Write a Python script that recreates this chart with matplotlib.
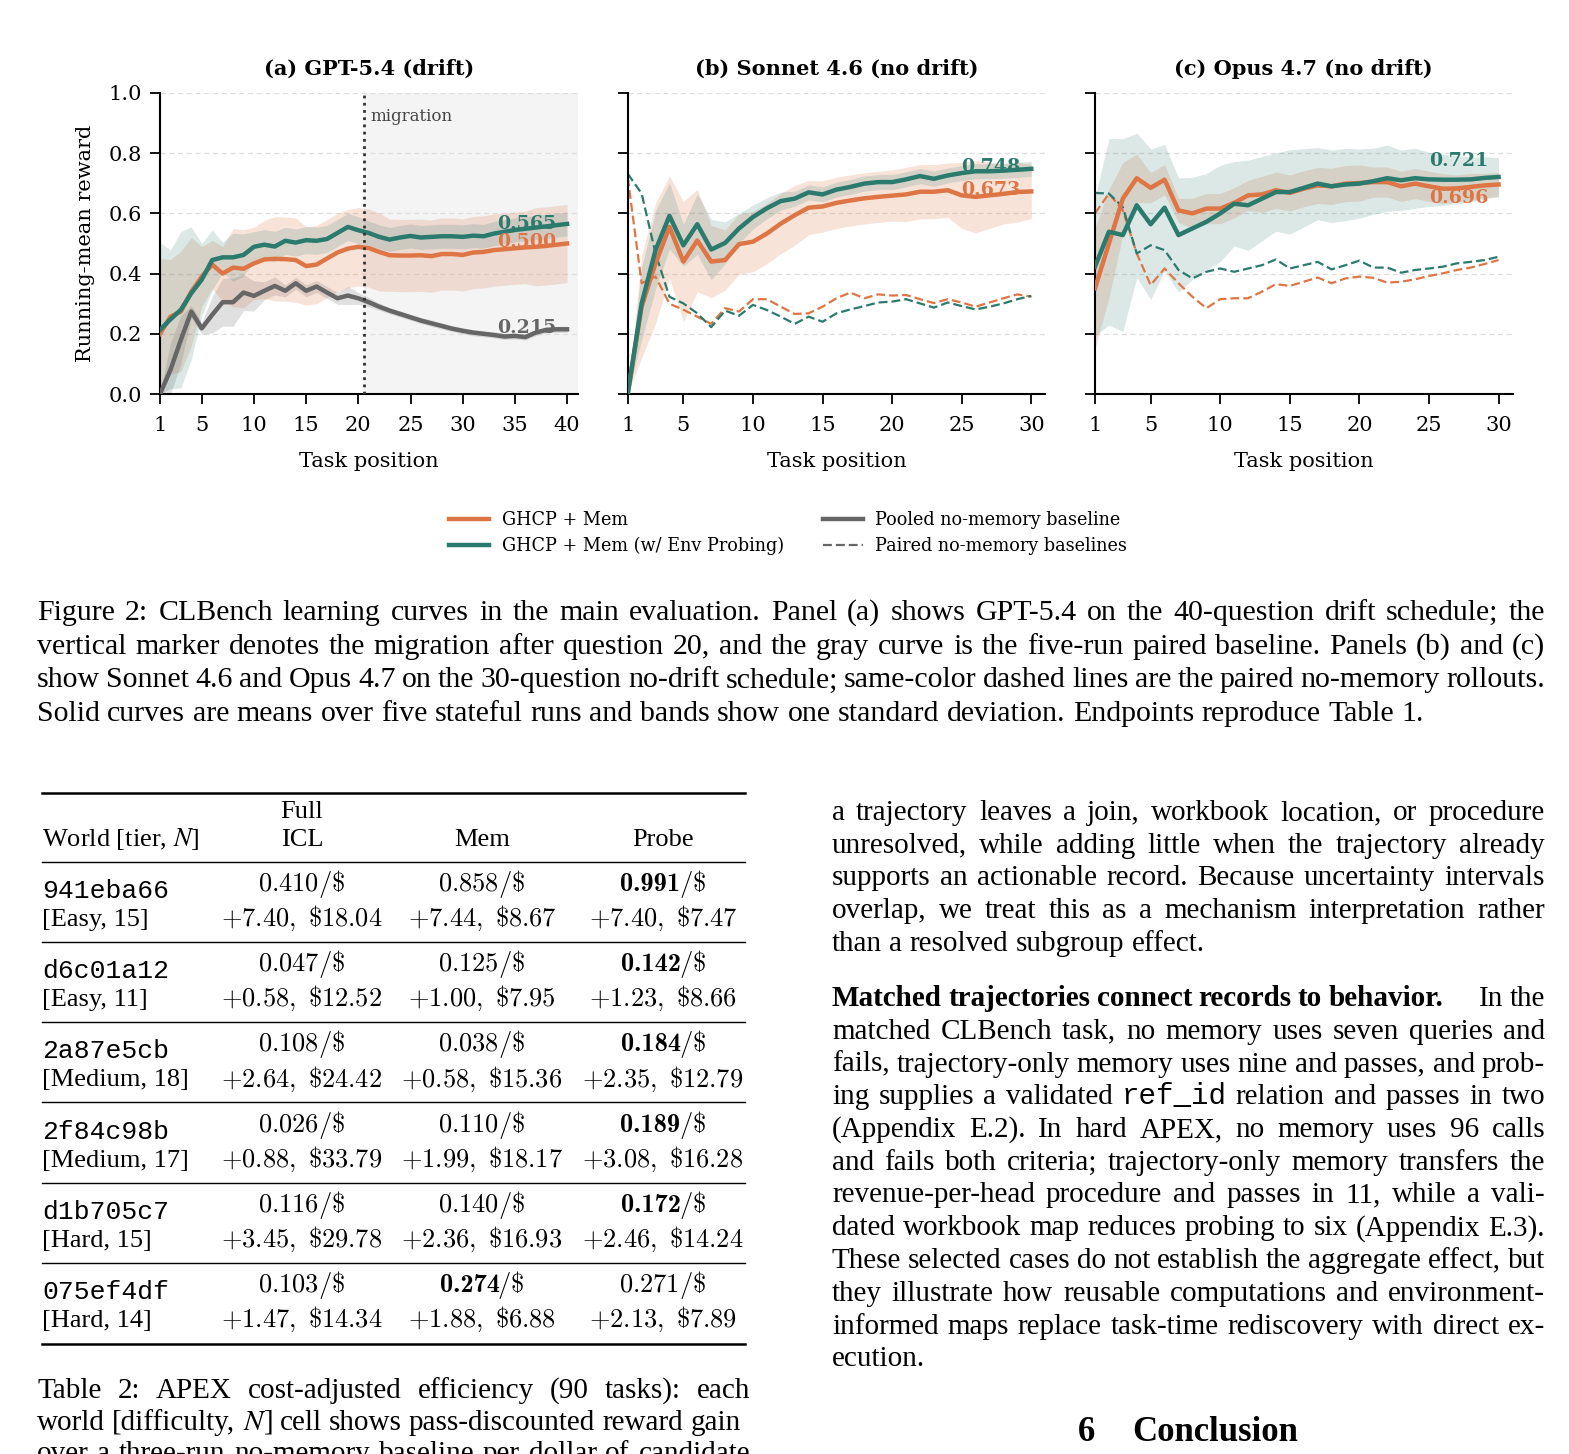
import os
import matplotlib
matplotlib.use("Agg")
import numpy as np
import matplotlib.pyplot as plt
from matplotlib.lines import Line2D
from matplotlib.transforms import IdentityTransform
from matplotlib.font_manager import FontProperties

W, H = 1569, 1454
ORANGE = "#DE7545"
TEAL = "#2B7A6E"
GRAY = "#666666"

# ---- panel (a): GPT-5.4, drift schedule ----
a_x = np.arange(1, 41)
a_mem = [0.200, 0.257, 0.274, 0.340, 0.390, 0.430, 0.400, 0.420, 0.416, 0.434,
         0.447, 0.449, 0.448, 0.445, 0.425, 0.430, 0.450, 0.470, 0.483, 0.489,
         0.485, 0.472, 0.461, 0.460, 0.460, 0.461, 0.458, 0.465, 0.465, 0.462,
         0.470, 0.472, 0.478, 0.481, 0.484, 0.487, 0.489, 0.492, 0.496, 0.500]
a_mem_sd = [0.25, 0.19, 0.20, 0.18, 0.10, 0.08, 0.09, 0.13, 0.13, 0.12,
            0.13, 0.14, 0.14, 0.14, 0.13, 0.13, 0.13, 0.13, 0.13, 0.13,
            0.13, 0.13, 0.12, 0.12, 0.12, 0.12, 0.12, 0.12, 0.12, 0.12,
            0.12, 0.12, 0.12, 0.12, 0.12, 0.12, 0.13, 0.13, 0.13, 0.13]
a_probe = [0.213, 0.248, 0.280, 0.335, 0.380, 0.445, 0.454, 0.454, 0.462, 0.489,
           0.496, 0.490, 0.509, 0.503, 0.511, 0.509, 0.515, 0.535, 0.555, 0.544,
           0.535, 0.522, 0.513, 0.520, 0.525, 0.520, 0.522, 0.524, 0.524, 0.522,
           0.526, 0.524, 0.533, 0.539, 0.545, 0.549, 0.553, 0.557, 0.561, 0.565]
a_probe_sd = [0.29, 0.23, 0.26, 0.22, 0.12, 0.10, 0.05, 0.08, 0.07, 0.05,
              0.05, 0.05, 0.045, 0.045, 0.045, 0.045, 0.045, 0.045, 0.045, 0.045,
              0.04, 0.04, 0.04, 0.04, 0.04, 0.04, 0.04, 0.04, 0.04, 0.04,
              0.04, 0.04, 0.04, 0.04, 0.04, 0.04, 0.04, 0.04, 0.04, 0.04]
a_base = [0.000, 0.080, 0.180, 0.274, 0.218, 0.263, 0.305, 0.305, 0.337, 0.326,
          0.343, 0.359, 0.343, 0.368, 0.343, 0.357, 0.337, 0.318, 0.327, 0.318,
          0.305, 0.290, 0.277, 0.266, 0.255, 0.244, 0.235, 0.226, 0.217, 0.210,
          0.204, 0.200, 0.196, 0.191, 0.193, 0.189, 0.204, 0.213, 0.215, 0.215]
a_base_sd = [0.0, 0.09, 0.08, 0.02, 0.02, 0.06, 0.08, 0.08, 0.06, 0.05,
             0.03, 0.03, 0.02, 0.02, 0.02, 0.02, 0.02, 0.02, 0.03, 0.02,
             0.015, 0.012, 0.01, 0.01, 0.01, 0.01, 0.01, 0.01, 0.01, 0.01,
             0.01, 0.01, 0.01, 0.01, 0.01, 0.01, 0.01, 0.01, 0.01, 0.01]

# ---- panel (b): Sonnet 4.6 ----
b_x = np.arange(1, 31)
b_mem = [0.000, 0.290, 0.434, 0.555, 0.440, 0.510, 0.440, 0.445, 0.498, 0.506,
         0.533, 0.566, 0.594, 0.619, 0.623, 0.635, 0.643, 0.650, 0.655, 0.659,
         0.663, 0.672, 0.672, 0.677, 0.660, 0.655, 0.660, 0.665, 0.671, 0.673]
b_mem_sd = [0.0, 0.17, 0.20, 0.17, 0.20, 0.17, 0.12, 0.10, 0.10, 0.10,
            0.10, 0.10, 0.10, 0.09, 0.085, 0.085, 0.085, 0.085, 0.085, 0.085,
            0.09, 0.09, 0.09, 0.09, 0.11, 0.12, 0.11, 0.10, 0.10, 0.09]
b_probe = [0.000, 0.300, 0.478, 0.592, 0.494, 0.564, 0.480, 0.502, 0.550, 0.588,
           0.617, 0.641, 0.649, 0.670, 0.663, 0.679, 0.688, 0.699, 0.704, 0.704,
           0.713, 0.724, 0.715, 0.726, 0.734, 0.740, 0.740, 0.742, 0.745, 0.748]
b_probe_sd = [0.0, 0.12, 0.13, 0.11, 0.07, 0.10, 0.10, 0.07, 0.05, 0.04,
              0.035, 0.03, 0.025, 0.025, 0.025, 0.025, 0.025, 0.025, 0.025, 0.025,
              0.025, 0.025, 0.025, 0.025, 0.025, 0.025, 0.025, 0.025, 0.025, 0.025]
b_mem_nomem = [0.720, 0.368, 0.390, 0.300, 0.280, 0.257, 0.233, 0.285, 0.274, 0.315,
               0.315, 0.290, 0.266, 0.268, 0.290, 0.318, 0.337, 0.318, 0.331, 0.327,
               0.329, 0.315, 0.302, 0.315, 0.304, 0.290, 0.304, 0.318, 0.331, 0.323]
b_probe_nomem = [0.732, 0.666, 0.467, 0.323, 0.301, 0.268, 0.222, 0.277, 0.260, 0.296,
                 0.279, 0.257, 0.233, 0.257, 0.240, 0.268, 0.281, 0.292, 0.304, 0.307,
                 0.315, 0.301, 0.287, 0.304, 0.292, 0.281, 0.290, 0.301, 0.315, 0.326]

# ---- panel (c): Opus 4.7 ----
c_x = np.arange(1, 31)
c_mem = [0.351, 0.500, 0.649, 0.717, 0.685, 0.712, 0.610, 0.600, 0.616, 0.616,
         0.635, 0.660, 0.663, 0.677, 0.668, 0.682, 0.693, 0.690, 0.699, 0.701,
         0.704, 0.704, 0.690, 0.699, 0.690, 0.682, 0.683, 0.688, 0.693, 0.696]
c_mem_sd = [0.20, 0.18, 0.12, 0.08, 0.05, 0.05, 0.04, 0.05, 0.05, 0.05,
            0.05, 0.05, 0.06, 0.06, 0.06, 0.06, 0.06, 0.06, 0.06, 0.06,
            0.05, 0.05, 0.05, 0.05, 0.05, 0.05, 0.045, 0.045, 0.04, 0.04]
c_probe = [0.423, 0.539, 0.528, 0.627, 0.564, 0.619, 0.528, 0.550, 0.572, 0.600,
           0.632, 0.627, 0.649, 0.671, 0.671, 0.685, 0.699, 0.690, 0.696, 0.699,
           0.707, 0.717, 0.710, 0.717, 0.713, 0.712, 0.712, 0.713, 0.718, 0.721]
c_probe_sd = [0.23, 0.31, 0.32, 0.24, 0.25, 0.21, 0.19, 0.17, 0.16, 0.16,
              0.14, 0.15, 0.14, 0.13, 0.14, 0.13, 0.12, 0.12, 0.12, 0.115,
              0.11, 0.11, 0.10, 0.10, 0.09, 0.085, 0.08, 0.075, 0.07, 0.065]
c_mem_nomem = [0.600, 0.666, 0.610, 0.467, 0.362, 0.417, 0.368, 0.323, 0.285, 0.315,
               0.318, 0.318, 0.340, 0.365, 0.359, 0.373, 0.387, 0.368, 0.384, 0.390,
               0.386, 0.370, 0.373, 0.381, 0.392, 0.401, 0.412, 0.420, 0.432, 0.445]
c_probe_nomem = [0.668, 0.666, 0.621, 0.467, 0.494, 0.478, 0.412, 0.384, 0.406, 0.417,
                 0.406, 0.417, 0.428, 0.447, 0.417, 0.428, 0.439, 0.414, 0.428, 0.443,
                 0.420, 0.420, 0.403, 0.412, 0.417, 0.423, 0.434, 0.439, 0.445, 0.456]

titles = ["(a) GPT-5.4 (drift)", "(b) Sonnet 4.6 (no drift)", "(c) Opus 4.7 (no drift)"]
xticks_a = [1, 5, 10, 15, 20, 25, 30, 35, 40]
xticks_bc = [1, 5, 10, 15, 20, 25, 30]
migration_after = 20
# endpoint label heights (nudged apart where labels would collide)
end_label_y = [[0.505, 0.566, 0.219], [0.677, 0.754], [0.652, 0.773]]

# ---- table 2 ----
worlds = ["941eba66", "d6c01a12", "2a87e5cb", "2f84c98b", "d1b705c7", "075ef4df"]
tiers = ["[Easy, 15]", "[Easy, 11]", "[Medium, 18]", "[Medium, 17]", "[Hard, 15]", "[Hard, 14]"]
eff = [[0.410, 0.858, 0.991], [0.047, 0.125, 0.142], [0.108, 0.038, 0.184],
       [0.026, 0.110, 0.189], [0.116, 0.140, 0.172], [0.103, 0.274, 0.271]]
gain = [[7.40, 7.44, 7.40], [0.58, 1.00, 1.23], [2.64, 0.58, 2.35],
        [0.88, 1.99, 3.08], [3.45, 2.36, 2.46], [1.47, 1.88, 2.13]]
cost = [[18.04, 8.67, 7.47], [12.52, 7.95, 8.66], [24.42, 15.36, 12.79],
        [33.79, 18.17, 16.28], [29.78, 16.93, 14.24], [14.34, 6.88, 7.89]]

caption_fig = [
    [("Figure 2: CLBench learning curves in the main evaluation. Panel (a) shows GPT-5.4 on the 40-question drift schedule; the", "r")],
    [("vertical marker denotes the migration after question 20, and the gray curve is the five-run paired baseline. Panels (b) and (c)", "r")],
    [("show Sonnet 4.6 and Opus 4.7 on the 30-question no-drift schedule; same-color dashed lines are the paired no-memory rollouts.", "r")],
    [("Solid curves are means over five stateful runs and bands show one standard deviation. Endpoints reproduce Table 1.", "r")],
]
para1 = [
    [("a trajectory leaves a join, workbook location, or procedure", "r")],
    [("unresolved, while adding little when the trajectory already", "r")],
    [("supports an actionable record. Because uncertainty intervals", "r")],
    [("overlap, we treat this as a mechanism interpretation rather", "r")],
    [("than a resolved subgroup effect.", "r")],
]
para2 = [
    [("Matched trajectories connect records to behavior.", "b"), ("", "quad"), ("In the", "r")],
    [("matched CLBench task, no memory uses seven queries and", "r")],
    [("fails, trajectory-only memory uses nine and passes, and prob-", "r")],
    [("ing supplies a validated", "r"), ("ref_id", "tt"), ("relation and passes in two", "r")],
    [("(Appendix E.2). In hard APEX, no memory uses 96 calls", "r")],
    [("and fails both criteria; trajectory-only memory transfers the", "r")],
    [("revenue-per-head procedure and passes in 11, while a vali-", "r")],
    [("dated workbook map reduces probing to six (Appendix E.3).", "r")],
    [("These selected cases do not establish the aggregate effect, but", "r")],
    [("they illustrate how reusable computations and environment-", "r")],
    [("informed maps replace task-time rediscovery with direct ex-", "r")],
    [("ecution.", "r")],
]
caption_tab = [
    [("Table 2: APEX cost-adjusted efficiency (90 tasks): each", "r")],
    [("world [difficulty, $N$] cell shows pass-discounted reward gain", "r")],
    [("over a three-run no-memory baseline per dollar of candidate", "r")],
]

plt.rcParams["font.family"] = "DejaVu Serif"
fig = plt.figure(figsize=(W / 100, H / 100), dpi=100)
renderer = fig.canvas.get_renderer()


def px_axes(left, top, width, height):
    return fig.add_axes([left / W, 1 - (top + height) / H, width / W, height / H])


def band(ax, x, m, s, color, alpha):
    m = np.asarray(m)
    s = np.asarray(s)
    ax.fill_between(x, np.clip(m - s, 0, 1), np.clip(m + s, 0, 1),
                    color=color, alpha=alpha, lw=0, zorder=1)


panel_left = [160, 627.7, 1095]
axes = []
for i in range(3):
    ax = px_axes(panel_left[i], 93, 417.5, 301)
    axes.append(ax)
    ax.set_ylim(0, 1.0)
    ax.set_yticks([0, 0.2, 0.4, 0.6, 0.8, 1.0])
    ax.set_axisbelow(True)
    ax.grid(axis="y", ls=(0, (4, 3)), color="#dddddd", lw=0.9)
    for sp in ["top", "right"]:
        ax.spines[sp].set_visible(False)
    for sp in ["left", "bottom"]:
        ax.spines[sp].set_linewidth(1.5)
    ax.tick_params(axis="both", direction="out", length=7, width=1.3, labelsize=15)
    ax.tick_params(axis="x", pad=9)
    ax.tick_params(axis="y", pad=6)
    ax.set_title(titles[i], fontsize=15, fontweight="bold", pad=13)
    ax.set_xlabel("Task position", fontsize=15, labelpad=12)
    if i > 0:
        ax.tick_params(labelleft=False)

# (a)
ax = axes[0]
ax.set_xlim(1, 41)
ax.set_xticks(xticks_a)
ax.set_yticklabels(["0.0", "0.2", "0.4", "0.6", "0.8", "1.0"])
ax.set_ylabel("Running-mean reward", fontsize=15, labelpad=10)
ax.axvspan(migration_after + 0.5, 41, color="#f4f4f4", lw=0, zorder=0)
ax.axvline(migration_after + 0.5, ls=(0, (1, 1.6)), color="#333333", lw=2, zorder=4)
ax.text(migration_after + 1.2, 0.922, "migration", fontsize=12, color="#444444", va="center", ha="left")
band(ax, a_x, a_base, a_base_sd, GRAY, 0.2)
band(ax, a_x, a_mem, a_mem_sd, ORANGE, 0.2)
band(ax, a_x, a_probe, a_probe_sd, TEAL, 0.17)
ax.plot(a_x, a_base, color=GRAY, lw=3.2, zorder=3)
ax.plot(a_x, a_mem, color=ORANGE, lw=3.2, zorder=3)
ax.plot(a_x, a_probe, color=TEAL, lw=3.2, zorder=3)
for vals, ly, col in zip([a_mem, a_probe, a_base], end_label_y[0], [ORANGE, TEAL, GRAY]):
    ax.text(a_x[-1] - 1.0, ly, f"{vals[-1]:.3f}", color=col, fontsize=13.7,
            fontweight="bold", ha="right", va="center", zorder=5)

# (b), (c)
for ax, x, mem, msd, pr, psd, mnm, pnm, ly in [
        (axes[1], b_x, b_mem, b_mem_sd, b_probe, b_probe_sd, b_mem_nomem, b_probe_nomem, end_label_y[1]),
        (axes[2], c_x, c_mem, c_mem_sd, c_probe, c_probe_sd, c_mem_nomem, c_probe_nomem, end_label_y[2])]:
    ax.set_xlim(1, 31)
    ax.set_xticks(xticks_bc)
    band(ax, x, mem, msd, ORANGE, 0.2)
    band(ax, x, pr, psd, TEAL, 0.17)
    ax.plot(x, mnm, color=ORANGE, lw=1.6, ls=(0, (4, 1.8)), zorder=2)
    ax.plot(x, pnm, color=TEAL, lw=1.6, ls=(0, (4, 1.8)), zorder=2)
    ax.plot(x, mem, color=ORANGE, lw=3.2, zorder=3)
    ax.plot(x, pr, color=TEAL, lw=3.2, zorder=3)
    ax.text(x[-1] - 0.75, ly[0], f"{mem[-1]:.3f}", color=ORANGE, fontsize=13.7,
            fontweight="bold", ha="right", va="center", zorder=5)
    ax.text(x[-1] - 0.75, ly[1], f"{pr[-1]:.3f}", color=TEAL, fontsize=13.7,
            fontweight="bold", ha="right", va="center", zorder=5)

handles = [Line2D([], [], color=ORANGE, lw=3.2), Line2D([], [], color=TEAL, lw=3.2),
           Line2D([], [], color=GRAY, lw=3.2), Line2D([], [], color=GRAY, lw=1.6, ls=(0, (4, 1.8)))]
labels = ["GHCP + Mem", "GHCP + Mem (w/ Env Probing)", "Pooled no-memory baseline", "Paired no-memory baselines"]
fig.legend(handles, labels, loc="center", bbox_to_anchor=(788 / W, 1 - 533 / H), ncol=2,
           frameon=False, fontsize=12.7, handlelength=2.3, handletextpad=0.7,
           columnspacing=2.2, labelspacing=0.45)

# ---- page text ----
STYLES = {
    "r": dict(family="Liberation Serif", math_fontfamily="stix"),
    "b": dict(family="Liberation Serif", weight="bold"),
    "tt": dict(family="Liberation Mono"),
}
BODY = 21
CAPT = 21.5


def set_line(segments, x0, x1, base, size=BODY, justify=True):
    words = []
    extra = 0.0
    for text, style in segments:
        if style == "quad":
            extra += size * 100 / 72
            continue
        for w in text.split(" "):
            words.append((w, style, extra))
            extra = 0.0
    arts = [fig.text(0, H - base, w, transform=IdentityTransform(), va="baseline",
                     ha="left", fontsize=size, **STYLES[s]) for w, s, _ in words]
    widths = [a.get_window_extent(renderer).width for a in arts]
    extras = sum(e for _, _, e in words)
    if justify and len(words) > 1:
        gap = max((x1 - x0 - sum(widths) - extras) / (len(words) - 1), 3.0)
    else:
        gap = 0.25 * size * 100 / 72
    x = x0
    for k, (a, wd, (_, _, e)) in enumerate(zip(arts, widths, words)):
        if k > 0:
            x += gap + e
        a.set_x(x)
        x += wd


def set_par(lines, x0, x1, base0, step, size=BODY):
    for k, segs in enumerate(lines):
        set_line(segs, x0, x1, base0 + k * step, size, justify=(k < len(lines) - 1))


set_par(caption_fig, 37, 1545, 620, 33.7, CAPT)
set_par(para1, 832, 1545, 820, 32.7)
set_par(para2, 832, 1545, 1006, 32.75)
set_par(caption_tab[:2], 37, 750, 1398, 31.5)
set_line(caption_tab[2], 37, 750, 1461)
fig.text(1078, H - 1441, "6", transform=IdentityTransform(), fontsize=25, fontweight="bold",
         family="Liberation Serif", va="baseline", ha="left")
fig.text(1132, H - 1441, "Conclusion", transform=IdentityTransform(), fontsize=25,
         fontweight="bold", family="Liberation Serif", va="baseline", ha="left")

# ---- table ----
TX0, TX1 = 42, 745
col_x = [302, 482, 663]
TSIZE = 19
cm_bold = FontProperties(fname=os.path.join(matplotlib.get_data_path(), "fonts", "ttf", "cmb10.ttf"),
                         size=TSIZE)


def rule(y, lw):
    fig.add_artist(Line2D([TX0, TX1], [H - y, H - y], color="black", lw=lw,
                          transform=IdentityTransform()))


def ttext(x, y, s, ha="center", **kw):
    if "fontproperties" not in kw:
        kw.setdefault("family", "Liberation Serif")
        kw["fontsize"] = TSIZE
    return fig.text(x, H - y, s, transform=IdentityTransform(), ha=ha,
                    va="baseline", **kw)


def bold_cell(cx, y, num):
    # bold number in CM bold followed by a regular "/$"
    t1 = ttext(0, y, num, ha="left", fontproperties=cm_bold)
    t2 = ttext(0, y, r"$/\$$", ha="left", math_fontfamily="cm")
    w1 = t1.get_window_extent(renderer).width
    w2 = t2.get_window_extent(renderer).width
    x0 = cx - (w1 + w2 - 2) / 2
    t1.set_x(x0)
    t2.set_x(x0 + w1 - 2)


rule(793, 1.8)
rule(862, 1.0)
ttext(TX0, 846, "World [tier, $N$]", ha="left", math_fontfamily="stix")
ttext(col_x[0], 818, "Full")
ttext(col_x[0], 846, "ICL")
ttext(col_x[1], 846, "Mem")
ttext(col_x[2], 846, "Probe")
row_step = 80.2
for r in range(len(worlds)):
    y0 = 891 + r * row_step
    ttext(TX0, y0 + 7, worlds[r], ha="left", family="Liberation Mono")
    ttext(TX0, y0 + 35, tiers[r], ha="left")
    best = int(np.argmax(eff[r]))
    for c in range(3):
        v = f"{eff[r][c]:.3f}"
        if c == best:
            bold_cell(col_x[c], y0, v)
        else:
            ttext(col_x[c], y0, r"$" + v + r"/\$$", math_fontfamily="cm")
        ttext(col_x[c], y0 + 35, f"$+{gain[r][c]:.2f},\\ \\${cost[r][c]:.2f}$", math_fontfamily="cm")
    if r < len(worlds) - 1:
        rule(942 + r * row_step, 1.0)
rule(1344, 1.8)

fig.savefig("out.png", dpi=100)
